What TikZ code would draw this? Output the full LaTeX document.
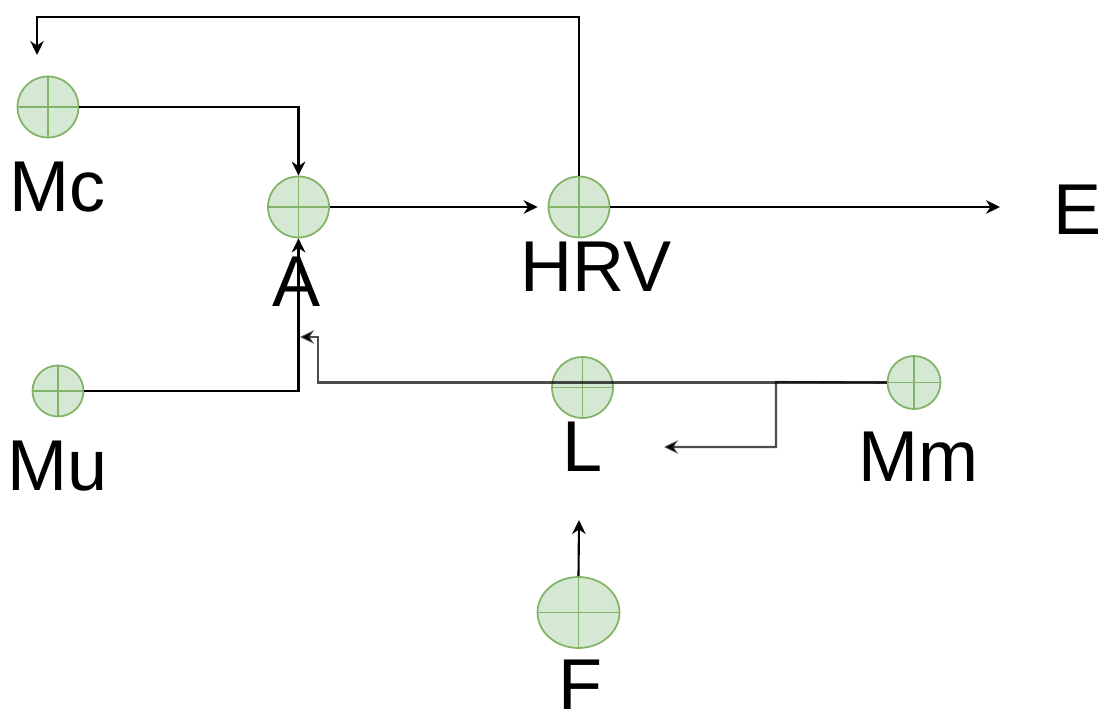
\documentclass[tikz,border=0pt]{standalone}
\usepackage{fontspec}
\setmainfont{Liberation Sans}
\usepackage{xcolor}
\usepackage{tikz}
\usetikzlibrary{arrows.meta,shapes.geometric}

\definecolor{sumfill}{HTML}{D5E8D4}
\definecolor{sumline}{HTML}{82B366}

\begin{document}
\begin{tikzpicture}[
  x=0.02cm, y=-0.02cm,
  font=\fontsize{41}{48}\selectfont,
  sumnode/.style={draw=sumline, fill=sumfill, line width=1pt, inner sep=0pt,
    path picture={\draw[sumline, line width=1pt]
      (path picture bounding box.north) -- (path picture bounding box.south)
      (path picture bounding box.west) -- (path picture bounding box.east);}},
  sum/.style={sumnode, circle, minimum size=1.22cm},
  lbl/.style={inner sep=0pt},
  arrow/.style={-{Stealth[length=2.8mm, width=2.7mm, inset=0.9mm]}, line width=1.2pt},
  faded/.style={arrow, draw opacity=0.7}
]
\useasboundingbox (0,0) rectangle (1102,709);
% summing junctions
\node[sum] (Mc) at (48,107) {};
\node[sum] (A) at (298.5,207) {};
\node[sum] (HRV) at (579,207) {};
\node[sum, minimum size=1.02cm] (Mu) at (58,391) {};
\node[sum] (L) at (582.5,387.5) {};
\node[sum, minimum size=1.06cm] (Mm) at (914,382.5) {};
\node[sumnode, ellipse, minimum width=1.64cm, minimum height=1.42cm] (F) at (578.5,612.5) {};
% labels
\node[lbl] (McT) at (58,187) {Mc};
\node[lbl] (AT) at (297,282) {A};
\node[lbl] (HRVT) at (596,267) {HRV};
\node[lbl] (ET) at (1078,210) {E};
\node[lbl] (MuT) at (58,466) {Mu};
\node[lbl] (LT) at (583,447) {L};
\node[lbl] (MmT) at (918,457) {Mm};
\node[lbl] (FT) at (580,685) {F};
% free ends
\coordinate (eEnd) at (1000,207);
\coordinate (fbTop) at (37,17);
\coordinate (fbEnd) at (37,55);
\coordinate (mmKnee) at (318,337);
\coordinate (mmEnd) at (300,337);
\coordinate (mmSplit) at (776,382);
\coordinate (lEnd) at (664,447);
\coordinate (fEnd) at (579,520);
% connectors
\draw[arrow] (Mc.east) -| (A.north);
\draw[arrow, shorten >=0.2cm] (A.east) -- (HRV.west);
\draw[arrow] (HRV.east) -- (eEnd);
\draw[arrow] (HRV.north) |- (fbTop) -- (fbEnd);
\draw[arrow] (Mu.east) -| (A.south);
\draw[faded] (Mm.west) -| (mmKnee) -- (mmEnd);
\draw[faded] (Mm.west) -- (mmSplit) |- (lEnd);
\draw[arrow] (F.north) -- (fEnd);
\end{tikzpicture}
\end{document}
